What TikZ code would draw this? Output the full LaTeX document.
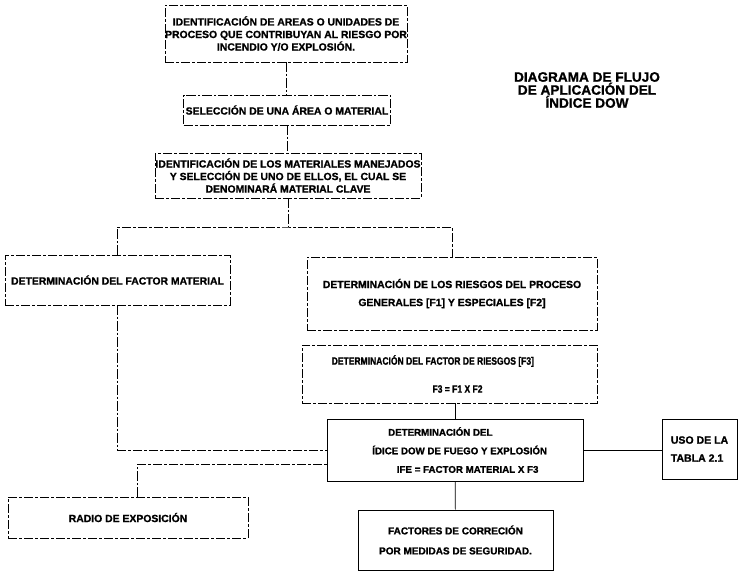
\documentclass[tikz,border=0pt]{standalone}
\usepackage{fontspec}
\setmainfont{Liberation Sans}[BoldFeatures={FakeBold=1.2}]
\newfontfamily\estrecha{Liberation Sans}[FakeStretch=0.8, BoldFeatures={FakeBold=1.2}]
\tikzset{
    paso/.style={draw, line width=0.5pt, dash pattern=on 7pt off 1.5pt on 2pt off 1.5pt,
      align=center, inner sep=0pt, font=\bfseries\fontsize{7.8}{9.4}\selectfont},
    pasofirme/.style={paso, solid},
    tam/.style 2 args={minimum width=#1*0.75pt, minimum height=#2*0.75pt},
    linea/.style={line width=0.5pt, dash pattern=on 7pt off 1.5pt on 2pt off 1.5pt},
    lineafirme/.style={line width=0.5pt}
}

\begin{document}
\begin{tikzpicture}[x=0.75pt, y=-0.75pt]
  \useasboundingbox (0,0) rectangle (738,572);
  \node [paso, tam={242}{57}] (areas) at (286,33.5)
    {IDENTIFICACIÓN DE AREAS O UNIDADES DE\\PROCESO QUE CONTRIBUYAN AL RIESGO POR\\INCENDIO Y/O EXPLOSIÓN.};
  \node [paso, tam={207}{30}] (seleccion) at (287,110) {SELECCIÓN DE UNA ÁREA O MATERIAL};
  \node [paso, tam={266}{45}] (materiales) at (288,175.5)
    {IDENTIFICACIÓN DE LOS MATERIALES MANEJADOS\\Y SELECCIÓN DE UNO DE ELLOS, EL CUAL SE\\DENOMINARÁ MATERIAL CLAVE};
  \node [paso, tam={225}{50}] (factor) at (117.5,280) {DETERMINACIÓN DEL FACTOR MATERIAL};
  \node [paso, tam={290}{73}, font=\bfseries\fontsize{7.8}{13.5}\selectfont] (riesgos) at (452,293.5)
    {DETERMINACIÓN DE LOS RIESGOS DEL PROCESO\\GENERALES [F1] Y ESPECIALES [F2]};
  \node [paso, tam={295}{58}, font=\estrecha\bfseries\fontsize{8}{21}\selectfont] (f3) at (449.5,374)
    {DETERMINACIÓN DEL FACTOR DE RIESGOS [F3]\hspace*{25pt}\\\hspace*{12pt}F3 = F1 X F2};
  \node [pasofirme, tam={256}{62}, font=\bfseries\fontsize{7.3}{13.9}\selectfont] (indice) at (455,450)
    {DETERMINACIÓN DEL\hspace*{22pt}\\\hspace*{7pt}ÍDICE DOW DE FUEGO Y EXPLOSIÓN\\\hspace*{19pt}IFE = FACTOR MATERIAL X F3};
  \node [pasofirme, tam={75}{60}, align=left, font=\bfseries\fontsize{7.9}{13.5}\selectfont] (tabla) at (699.5,449)
    {USO DE LA\\TABLA 2.1};
  \node [paso, tam={240}{41}] (radio) at (128,517.5) {RADIO DE EXPOSICIÓN};
  \node [pasofirme, tam={195}{60}, font=\bfseries\fontsize{7.5}{15}\selectfont] (correccion) at (455.5,540)
    {FACTORES DE CORRECIÓN\\POR MEDIDAS DE SEGURIDAD.};
  \node [align=center, inner sep=0pt, font=\bfseries\fontsize{10.2}{9.75}\selectfont] (titulo) at (587,90)
    {DIAGRAMA DE FLUJO\\DE APLICACIÓN DEL\\ÍNDICE DOW};

  \coordinate (rama) at (288,227);
  \draw [linea] (areas.south) -- (areas.south |- seleccion.north);
  \draw [linea] (seleccion.south) -- (seleccion.south |- materiales.north);
  \draw [linea] (materiales) -- (rama);
  \draw [linea] (factor.north) |- (rama) -| (riesgos.north);
  \draw [linea] (factor.south) |- (indice.west);
  \draw [linea] ([xshift=6.75pt]radio.north) |- ([yshift=-11pt]indice.west);
  \draw [lineafirme] (indice.north) -- (indice.north |- f3.south);
  \draw [lineafirme] (indice.east) -- (indice.east -| tabla.west);
  \draw [lineafirme] (indice) -- (correccion);
\end{tikzpicture}
\end{document}
